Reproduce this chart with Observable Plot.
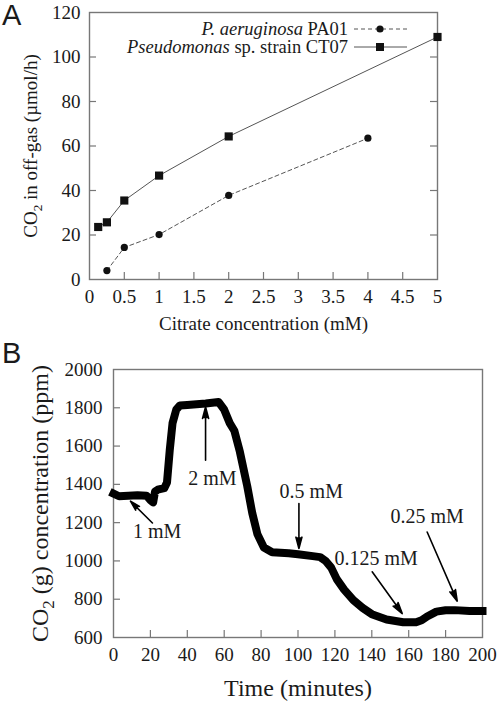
<!DOCTYPE html>
<html><head><meta charset="utf-8">
<script src="https://cdn.jsdelivr.net/npm/d3@7"></script>
<script src="https://cdn.jsdelivr.net/npm/@observablehq/plot@0.6"></script>
<style>
html,body{margin:0;padding:0;background:#fff;}
#root{position:relative;width:500px;height:701px;overflow:hidden;font-family:'Liberation Serif',serif;color:#1a1a1a;}
#root svg{position:absolute;left:0;display:block;}
#root svg text{font-family:'Liberation Serif',serif;}
#root svg text.tag{font-family:'Liberation Sans',sans-serif;}
</style></head><body><div id="root"></div>
<script>
// ---------- Panel A data ----------
const pa01Conc = [0.25, 0.5, 1, 2, 4];
const pa01CO2  = [4.0, 14.4, 20.2, 37.8, 63.5];
const ct07Conc = [0.125, 0.25, 0.5, 1, 2, 5];
const ct07CO2  = [23.6, 25.7, 35.5, 46.7, 64.3, 109];
const aXTicks = [0, 0.5, 1, 1.5, 2, 2.5, 3, 3.5, 4, 4.5, 5];
const aYTicks = [0, 20, 40, 60, 80, 100, 120];
const aXLabel = "Citrate concentration (mM)";
const aYLabel = "CO2 in off-gas (µmol/h)";
const legendNames = [["P. aeruginosa", " PA01"], ["Pseudomonas", " sp. strain CT07"]];

// ---------- Panel B data ----------
const timeMin = [0, 3, 8, 13, 18, 20, 21.5, 22.5, 24, 27.5, 29, 30.5, 32, 34, 36, 40, 45, 50, 57, 60, 63, 65.5, 68.5, 72.5, 75.2, 78, 81.5, 86, 95, 100, 108, 112, 115, 118, 121, 125, 130, 135, 140, 148, 157, 164, 167, 170, 175, 180, 185, 193, 200];
const co2ppm  = [1352, 1338, 1340, 1343, 1340, 1318, 1306, 1362, 1372, 1380, 1410, 1580, 1720, 1790, 1812, 1815, 1818, 1822, 1830, 1790, 1720, 1680, 1570, 1390, 1250, 1140, 1070, 1045, 1040, 1035, 1025, 1020, 1000, 965, 905, 850, 795, 755, 722, 694, 680, 680, 690, 710, 735, 742, 743, 739, 739];
const bXTicks = [0, 20, 40, 60, 80, 100, 120, 140, 160, 180, 200];
const bYTicks = [600, 800, 1000, 1200, 1400, 1600, 1800, 2000];
const bXLabel = "Time (minutes)";
const bYLabel = "CO2 (g) concentration (ppm)";
const annLabels = ["1 mM", "2 mM", "0.5 mM", "0.125 mM", "0.25 mM"];
const annTextT  = [23.7, 53.6, 107.2, 142.4, 170];
const annTextV  = [1151, 1432, 1360, 1012, 1232];
const arrowT1   = [21.1, 49.9, 100.5, 140.2, 170];
const arrowV1   = [1198, 1526, 1300, 943, 1151];
const arrowT2   = [9.2, 49.9, 100.5, 156.5, 186.3];
const arrowV2   = [1312, 1804, 1065, 725, 790];

const FRAME = "#777";
const INK = "#1a1a1a";
const SERIF = "'Liberation Serif', serif";
const root = document.getElementById("root");

function cleanLabels(svg, size) {
  d3.select(svg).selectAll('[aria-label="x-axis label"] text, [aria-label="y-axis label"] text').each(function () {
    const t = d3.select(this);
    const s = t.text().replace(/\s*[↑→↓←]\s*/g, "").trim();
    t.text(null).attr("font-size", size + "px");
    if (s.startsWith("CO2")) {
      t.append("tspan").text("CO");
      t.append("tspan").text("2").attr("font-size", (size * 0.7) + "px").attr("dy", size * 0.28);
      t.append("tspan").text(s.slice(3)).attr("dy", -size * 0.28);
    } else {
      t.text(s);
    }
  });
  d3.select(svg).attr("font-family", SERIF).selectAll("text").attr("font-family", SERIF);
}

// ---------- Panel A ----------
{
  const W = 500, H = 340, mL = 89, mR = 63, mT = 12, mB = 61;
  const fW = W - mL - mR, fH = H - mT - mB;
  const pa = pa01Conc.map((c, i) => ({c, v: pa01CO2[i]}));
  const ct = ct07Conc.map((c, i) => ({c, v: ct07CO2[i]}));
  const svg = Plot.plot({
    width: W, height: H, marginLeft: mL, marginRight: mR, marginTop: mT, marginBottom: mB,
    style: {fontFamily: SERIF, fontSize: "19px", color: INK, background: "transparent", overflow: "visible"},
    x: {domain: [0, 5]},
    y: {domain: [0, 120]},
    marks: [
      Plot.tickX(aXTicks.slice(1, -1), {x: d => d, insetTop: fH - 7, stroke: FRAME, strokeWidth: 1.2}),
      Plot.tickY(aYTicks.slice(1, -1), {y: d => d, insetRight: fW - 7, stroke: FRAME, strokeWidth: 1.2}),
      Plot.tickY(aYTicks.slice(1, -1), {y: d => d, insetLeft: fW - 7, stroke: FRAME, strokeWidth: 1.2}),
      Plot.frame({stroke: FRAME, strokeWidth: 1.4}),
      Plot.axisX({ticks: aXTicks, tickSize: 0, tickPadding: 10, tickFormat: d => String(d), label: aXLabel, labelAnchor: "center", labelArrow: "none", labelOffset: 50, fill: INK}),
      Plot.axisY({ticks: aYTicks, tickSize: 0, tickPadding: 9, tickFormat: d => String(d), label: aYLabel, labelAnchor: "center", labelArrow: "none", labelOffset: 66, fill: INK}),
      Plot.line(pa, {x: "c", y: "v", stroke: "#555", strokeWidth: 1, strokeDasharray: "4,3"}),
      Plot.line(ct, {x: "c", y: "v", stroke: "#555", strokeWidth: 1}),
      Plot.dot(pa, {x: "c", y: "v", r: 3.6, fill: "#111", stroke: "none", symbol: "circle"}),
      Plot.dot(ct, {x: "c", y: "v", r: 4.6, fill: "#111", stroke: "none", symbol: "square"})
    ]
  });
  svg.style.top = "0px";
  root.appendChild(svg);
  cleanLabels(svg, 19);
}

// ---------- Panel B ----------
{
  const W = 500, H = 361, mL = 113, mR = 18, mT = 29, mB = 64;
  const fW = W - mL - mR, fH = H - mT - mB;
  const series = timeMin.map((t, i) => ({t, v: co2ppm[i]}));
  const ann = annLabels.map((s, i) => ({s, t: annTextT[i], v: annTextV[i], t1: arrowT1[i], v1: arrowV1[i], t2: arrowT2[i], v2: arrowV2[i]}));
  const svg = Plot.plot({
    width: W, height: H, marginLeft: mL, marginRight: mR, marginTop: mT, marginBottom: mB,
    style: {fontFamily: SERIF, fontSize: "19px", color: INK, background: "transparent", overflow: "visible"},
    x: {domain: [0, 200]},
    y: {domain: [600, 2000]},
    marks: [
      Plot.tickX(bXTicks.slice(1, -1), {x: d => d, insetTop: fH - 7, stroke: FRAME, strokeWidth: 1.2}),
      Plot.tickY(bYTicks.slice(1, -1), {y: d => d, insetRight: fW - 7, stroke: FRAME, strokeWidth: 1.2}),
      Plot.frame({stroke: FRAME, strokeWidth: 1.4}),
      Plot.axisX({ticks: bXTicks, tickSize: 0, tickPadding: 10, tickFormat: d => String(d), label: bXLabel, labelAnchor: "center", labelArrow: "none", labelOffset: 58, fill: INK}),
      Plot.axisY({ticks: bYTicks, tickSize: 0, tickPadding: 11, tickFormat: d => String(d), label: bYLabel, labelAnchor: "center", labelArrow: "none", labelOffset: 83, fill: INK}),
      Plot.line(series, {x: "t", y: "v", stroke: "#000", strokeWidth: 8, strokeLinejoin: "round", strokeLinecap: "square"}),
      Plot.arrow(ann, {x1: "t1", y1: "v1", x2: "t2", y2: "v2", stroke: "#000", fill: "#000", strokeWidth: 1.6, headLength: 11, headAngle: 30}),
      Plot.text(ann, {x: "t", y: "v", text: "s", fontSize: 20, fill: INK})
    ]
  });
  svg.style.top = "340px";
  root.appendChild(svg);
  cleanLabels(svg, 24);
}

// ---------- Panel tags and legend ----------
{
  const ov = d3.select(root).append("svg").attr("width", 500).attr("height", 701).style("top", "0px")
    .attr("font-family", SERIF);
  ov.append("text").attr("class", "tag").attr("x", 2).attr("y", 25).attr("font-size", 29).attr("fill", INK).text("A");
  ov.append("text").attr("class", "tag").attr("x", 2).attr("y", 363).attr("font-size", 29).attr("fill", INK).text("B");
  const rows = [29, 47];
  legendNames.forEach((nm, i) => {
    const y = rows[i];
    const t = ov.append("text").attr("x", 348).attr("y", y + 6).attr("text-anchor", "end").attr("font-size", 18.5).attr("fill", INK);
    t.append("tspan").attr("font-style", "italic").text(nm[0]);
    t.append("tspan").text(nm[1]);
    ov.append("line").attr("x1", 354).attr("x2", 407).attr("y1", y).attr("y2", y).attr("stroke", "#555").attr("stroke-width", 1)
      .attr("stroke-dasharray", i === 0 ? "4,3" : null);
    if (i === 0) ov.append("circle").attr("cx", 380).attr("cy", y).attr("r", 3.6).attr("fill", "#111");
    else ov.append("rect").attr("x", 376).attr("y", y - 4).attr("width", 8).attr("height", 8).attr("fill", "#111");
  });
}
</script></body></html>
